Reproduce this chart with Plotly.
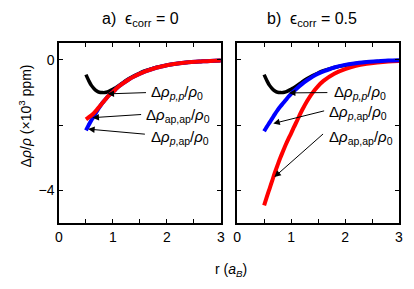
import plotly.graph_objects as go
from plotly.subplots import make_subplots

# ---- data ----
r = [0.5, 0.55, 0.6, 0.65, 0.7, 0.75, 0.8, 0.85, 0.9, 0.95, 1.0, 1.05, 1.1, 1.2, 1.3,
     1.4, 1.5, 1.6, 1.8, 2.0, 2.2, 2.4, 2.6, 2.8, 3.0]

# Δρ_pp / ρ0 (same in both panels)
pp = [-0.45, -0.63, -0.78, -0.88, -0.95, -0.99, -1.0, -1.0, -0.98, -0.94, -0.90, -0.85, -0.80,
      -0.68, -0.57, -0.48, -0.40, -0.33, -0.23, -0.16, -0.11, -0.07, -0.05, -0.03, -0.02]

# panel a) eps_corr = 0
a_pap = [-2.16, -2.0, -1.85, -1.72, -1.58, -1.45, -1.33, -1.23, -1.13, -1.05, -0.98, -0.90, -0.82,
         -0.70, -0.59, -0.50, -0.42, -0.35, -0.24, -0.16, -0.11, -0.07, -0.05, -0.03, -0.02]
a_apap = [-1.82, -1.76, -1.70, -1.62, -1.53, -1.43, -1.33, -1.23, -1.13, -1.05, -0.98, -0.90, -0.82,
          -0.70, -0.59, -0.50, -0.42, -0.35, -0.24, -0.16, -0.11, -0.07, -0.05, -0.03, -0.02]

# panel b) eps_corr = 0.5
b_pap = [-2.19, -2.05, -1.92, -1.79, -1.66, -1.54, -1.43, -1.33, -1.23, -1.13, -1.04, -0.96, -0.88,
         -0.74, -0.62, -0.51, -0.42, -0.35, -0.23, -0.15, -0.10, -0.06, -0.04, -0.02, -0.01]
b_apap = [-4.46, -4.2, -3.95, -3.7, -3.45, -3.22, -3.0, -2.8, -2.6, -2.42, -2.25, -2.07, -1.90,
          -1.55, -1.25, -1.0, -0.80, -0.64, -0.42, -0.28, -0.18, -0.12, -0.08, -0.05, -0.03]

x_ticks = [0, 0.5, 1, 1.5, 2, 2.5, 3]
x_ticktext = ["0", "", "1", "", "2", "", "3"]
y_ticks = [0, -2, -4]
y_ticktext = ["0", "", "\u22124"]

titles = ["a)  \u03f5<sub>corr</sub> = 0", "b)  \u03f5<sub>corr</sub> = 0.5"]
lab_pp = "\u0394<i>\u03c1</i><sub><i>p,p</i></sub>/<i>\u03c1</i><sub>0</sub>"
lab_pap = "\u0394<i>\u03c1</i><sub><i>p</i>,ap</sub>/<i>\u03c1</i><sub>0</sub>"
lab_apap = "\u0394<i>\u03c1</i><sub>ap,ap</sub>/<i>\u03c1</i><sub>0</sub>"

RED = "#ff0000"
BLUE = "#0000ff"
BLACK = "#000000"

fig = make_subplots(rows=1, cols=2, shared_yaxes=False, horizontal_spacing=0.048)

for col, (pap, apap) in enumerate([(a_pap, a_apap), (b_pap, b_apap)], start=1):
    fig.add_trace(go.Scatter(x=r, y=pp, mode="lines", line=dict(color=BLACK, width=3.5, shape="spline"),
                             showlegend=False), row=1, col=col)
    if col == 1:
        fig.add_trace(go.Scatter(x=r, y=pap, mode="lines", line=dict(color=BLUE, width=4, shape="spline"),
                                 showlegend=False), row=1, col=col)
        fig.add_trace(go.Scatter(x=r, y=apap, mode="lines", line=dict(color=RED, width=4, shape="spline"),
                                 showlegend=False), row=1, col=col)
    else:
        fig.add_trace(go.Scatter(x=r, y=apap, mode="lines", line=dict(color=RED, width=4, shape="spline"),
                                 showlegend=False), row=1, col=col)
        fig.add_trace(go.Scatter(x=r, y=pap, mode="lines", line=dict(color=BLUE, width=4, shape="spline"),
                                 showlegend=False), row=1, col=col)

axis_common = dict(showline=True, linecolor="black", linewidth=1.5, mirror="allticks",
                   ticks="inside", ticklen=4, tickwidth=1.2, tickcolor="black",
                   showgrid=False, zeroline=False,
                   tickfont=dict(family="Liberation Sans, Arial", size=14, color="black"))

for i in (1, 2):
    fig.update_xaxes(range=[0, 3], tickvals=x_ticks, ticktext=x_ticktext, row=1, col=i, **axis_common)
    fig.update_yaxes(range=[-5, 0.52], tickvals=y_ticks, ticktext=y_ticktext,
                     showticklabels=(i == 1), row=1, col=i, **axis_common)

anns = []
font_lab = dict(family="Liberation Sans, Arial", size=15, color="black")
texts = [
    ("x", "y", 1.66, -0.99, lab_pp),
    ("x", "y", 1.57, -1.70, lab_apap),
    ("x", "y", 1.66, -2.37, lab_pap),
    ("x2", "y2", 1.75, -0.99, lab_pp),
    ("x2", "y2", 1.66, -1.60, lab_pap),
    ("x2", "y2", 1.66, -2.38, lab_apap),
]
for xr, yr, x, y, t in texts:
    anns.append(dict(xref=xr, yref=yr, x=x, y=y, text=t, showarrow=False,
                     xanchor="left", yanchor="middle", font=font_lab))

arrows = [
    ("x", "y", 0.90, -1.04, 1.64, -1.0),
    ("x", "y", 0.62, -1.77, 1.55, -1.67),
    ("x", "y", 0.54, -2.12, 1.62, -2.28),
    ("x2", "y2", 0.96, -1.01, 1.70, -1.0),
    ("x2", "y2", 0.67, -1.95, 1.64, -1.55),
    ("x2", "y2", 0.69, -3.59, 1.62, -2.23),
]
for xr, yr, hx, hy, tx, ty in arrows:
    anns.append(dict(xref=xr, yref=yr, x=hx, y=hy, ax=tx, ay=ty, axref=xr, ayref=yr,
                     text="", showarrow=True, arrowhead=2, arrowsize=1.3, arrowwidth=1,
                     arrowcolor="black"))

# titles
anns.append(dict(xref="paper", yref="paper", x=(141 - 59) / 344, y=(223 - 19) / 180, text=titles[0],
                 showarrow=False, xanchor="center", yanchor="middle",
                 font=dict(family="Liberation Sans, Arial", size=16, color="black")))
anns.append(dict(xref="paper", yref="paper", x=(315 - 59) / 344, y=(223 - 19) / 180, text=titles[1],
                 showarrow=False, xanchor="center", yanchor="middle",
                 font=dict(family="Liberation Sans, Arial", size=16, color="black")))
# axis titles
anns.append(dict(xref="paper", yref="paper", x=(233 - 59) / 344, y=(223 - 270) / 180,
                 text="r (<i>a<sub>B</sub></i>)", showarrow=False, xanchor="center", yanchor="middle",
                 font=dict(family="Liberation Sans, Arial", size=14, color="black")))
anns.append(dict(xref="paper", yref="paper", x=(25 - 59) / 344, y=(223 - 116) / 180,
                 text="\u0394<i>\u03c1</i>/<i>\u03c1</i> (\u00d710<sup>3</sup> ppm)", textangle=-90,
                 showarrow=False, xanchor="center", yanchor="middle",
                 font=dict(family="Liberation Sans, Arial", size=14, color="black")))

# The page body has an 8px margin, so the figure is 8px smaller and its margins are 8px less.
fig.update_layout(width=406, height=281, margin=dict(l=51, r=11, t=35, b=66),
                  plot_bgcolor="white", paper_bgcolor="white", annotations=anns,
                  showlegend=False)

fig.write_html("out.html")
